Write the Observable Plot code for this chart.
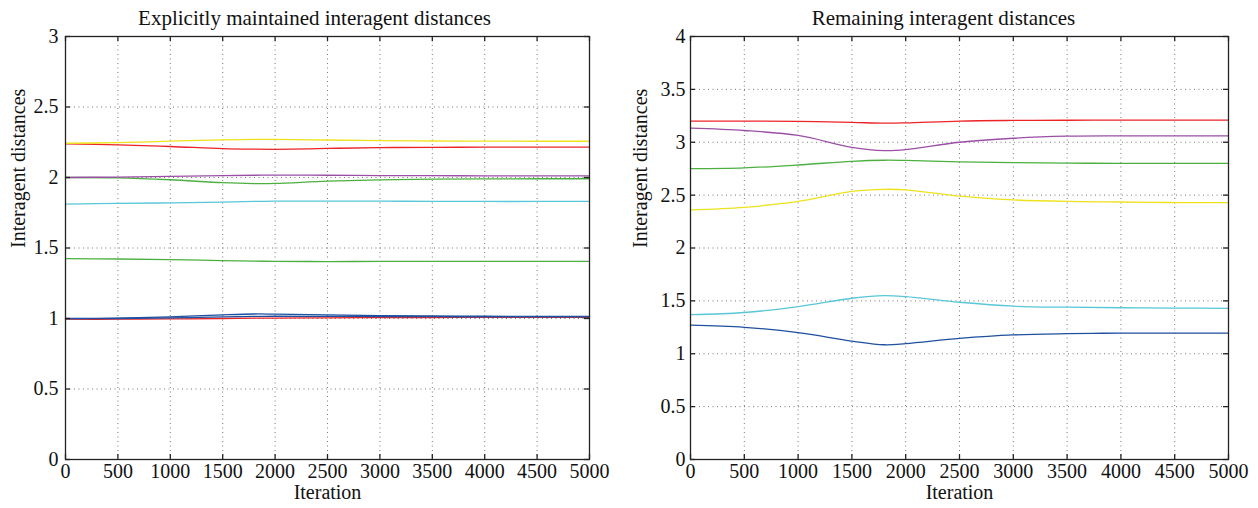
<!DOCTYPE html>
<html>
<head>
<meta charset="utf-8">
<script src="https://cdn.jsdelivr.net/npm/d3@7"></script>
<script src="https://cdn.jsdelivr.net/npm/@observablehq/plot@0.6"></script>
<style>
  html, body { margin: 0; padding: 0; background: #fff; }
  #wrap { display: flex; width: 1258px; height: 508px; overflow: hidden; font-family: "Liberation Serif", serif; }
  .panel { position: relative; width: 629px; height: 508px; }
  .title { position: absolute; top: 6px; left: 0; width: 629px; text-align: center; font-size: 21px; line-height: 24px; color: #111; }
  .chart { position: absolute; top: 30px; left: 0; }
  .chart svg text { font-family: "Liberation Serif", serif !important; }
</style>
</head>
<body>
<div id="wrap">
  <div class="panel" id="p1"><div class="title">Explicitly maintained interagent distances</div><div class="chart" id="c1"></div></div>
  <div class="panel" id="p2"><div class="title">Remaining interagent distances</div><div class="chart" id="c2"></div></div>
</div>
<script>
// ---- shared ----
const iterations = [0, 500, 1000, 1500, 1800, 2000, 2500, 3000, 3500, 4000, 4500, 5000];
const xTicks = [0, 500, 1000, 1500, 2000, 2500, 3000, 3500, 4000, 4500, 5000];
const xLabel = "Iteration";
const yLabel = "Interagent distances";

// ---- left panel: explicitly maintained ----
const leftTitle = "Explicitly maintained interagent distances";
const leftYTicks = [0, 0.5, 1, 1.5, 2, 2.5, 3];
const leftYellow  = [2.243, 2.247, 2.258, 2.267, 2.270, 2.270, 2.266, 2.262, 2.259, 2.258, 2.257, 2.257];
const leftRed1    = [2.239, 2.232, 2.220, 2.205, 2.201, 2.200, 2.206, 2.212, 2.214, 2.215, 2.215, 2.215];
const leftPurple  = [2.000, 2.003, 2.008, 2.013, 2.016, 2.017, 2.016, 2.014, 2.013, 2.012, 2.012, 2.012];
const leftGreen1  = [2.000, 1.998, 1.984, 1.963, 1.957, 1.958, 1.974, 1.983, 1.988, 1.990, 1.991, 1.991];
const leftCyan    = [1.811, 1.816, 1.820, 1.826, 1.830, 1.832, 1.832, 1.832, 1.831, 1.830, 1.830, 1.830];
const leftGreen2  = [1.424, 1.422, 1.418, 1.411, 1.407, 1.405, 1.404, 1.405, 1.405, 1.405, 1.405, 1.405];
const leftBlue1   = [1.000, 1.003, 1.012, 1.026, 1.032, 1.031, 1.026, 1.021, 1.018, 1.016, 1.015, 1.015];
const leftBlue2   = [0.999, 1.000, 1.004, 1.011, 1.015, 1.016, 1.015, 1.014, 1.013, 1.012, 1.012, 1.012];
const leftRed2    = [0.995, 0.995, 0.997, 1.000, 1.002, 1.003, 1.005, 1.006, 1.007, 1.008, 1.008, 1.008];

// ---- right panel: remaining ----
const rightTitle = "Remaining interagent distances";
const rightYTicks = [0, 0.5, 1, 1.5, 2, 2.5, 3, 3.5, 4];
const rightRed    = [3.200, 3.200, 3.198, 3.188, 3.180, 3.183, 3.200, 3.206, 3.208, 3.209, 3.210, 3.210];
const rightPurple = [3.133, 3.111, 3.064, 2.952, 2.921, 2.930, 3.000, 3.038, 3.057, 3.060, 3.061, 3.061];
const rightGreen  = [2.750, 2.758, 2.785, 2.820, 2.830, 2.828, 2.815, 2.807, 2.803, 2.800, 2.800, 2.800];
const rightYellow = [2.360, 2.385, 2.440, 2.535, 2.555, 2.550, 2.490, 2.455, 2.440, 2.435, 2.430, 2.430];
const rightCyan   = [1.370, 1.390, 1.445, 1.525, 1.550, 1.540, 1.487, 1.450, 1.440, 1.435, 1.432, 1.430];
const rightBlue   = [1.270, 1.250, 1.200, 1.120, 1.085, 1.095, 1.145, 1.178, 1.190, 1.195, 1.195, 1.195];

const C = {
  red: "#ec2427", yellow: "#eee21c", purple: "#9a4fa5", green: "#4bb040",
  cyan: "#58c7d7", blue: "#1f4f9f"
};

const FONT = "Liberation Serif";
const toRows = vals => iterations.map((x, i) => ({x, y: vals[i]}));

function makeChart({series, yDomain, yTicks, marginLeft, marginRight, yTickPad, yLabelDx}) {
  const width = 629, height = 478, marginTop = 6, marginBottom = 49;
  const innerW = width - marginLeft - marginRight;
  const innerH = height - marginTop - marginBottom;
  const tickLen = 5;
  const svg = Plot.plot({
    width, height, marginTop, marginBottom, marginLeft, marginRight,
    style: {fontFamily: FONT, fontSize: "20px", color: "#111", background: "white", overflow: "visible"},
    x: {domain: [0, 5000]},
    y: {domain: yDomain},
    marks: [
      Plot.gridX(xTicks.slice(1, -1), {stroke: "#777", strokeOpacity: 1, strokeDasharray: "1,3.5", strokeWidth: 1}),
      Plot.gridY(yTicks.slice(1, -1), {stroke: "#777", strokeOpacity: 1, strokeDasharray: "1,3.5", strokeWidth: 1}),
      ...series.map(([vals, col]) => Plot.line(toRows(vals), {x: "x", y: "y", stroke: col, strokeWidth: 1.3, curve: "catmull-rom"})),
      Plot.frame({stroke: "#222", strokeWidth: 1.3}),
      // inward ticks on all four sides (MATLAB style)
      Plot.tickX(xTicks, {x: d => d, insetTop: innerH - tickLen, stroke: "#222", strokeWidth: 1.3}),
      Plot.tickX(xTicks, {x: d => d, insetBottom: innerH - tickLen, stroke: "#222", strokeWidth: 1.3}),
      Plot.tickY(yTicks, {y: d => d, insetRight: innerW - tickLen, stroke: "#222", strokeWidth: 1.3}),
      Plot.tickY(yTicks, {y: d => d, insetLeft: innerW - tickLen, stroke: "#222", strokeWidth: 1.3}),
      Plot.axisX(xTicks, {tickSize: 0, tickPadding: 4, tickFormat: d => String(d), label: null, fontSize: 20, fontFamily: FONT}),
      Plot.axisY(yTicks, {tickSize: 0, tickPadding: yTickPad, tickFormat: d => String(d), label: null, fontSize: 20, fontFamily: FONT}),
      Plot.text([xLabel], {frameAnchor: "bottom", dy: 39, fontSize: 20, fontFamily: FONT, fill: "#111"}),
      Plot.text([yLabel], {frameAnchor: "left", rotate: -90, dx: yLabelDx, fontSize: 20, fontFamily: FONT, fill: "#111"})
    ]
  });
  svg.querySelectorAll("text").forEach(t => t.style.fontFamily = '"Liberation Serif", serif');
  return svg;
}

document.querySelector("#p1 .title").textContent = leftTitle;
document.querySelector("#p2 .title").textContent = rightTitle;

document.getElementById("c1").appendChild(makeChart({
  series: [
    [leftGreen2, C.green], [leftCyan, C.cyan], [leftGreen1, C.green], [leftPurple, C.purple],
    [leftRed1, C.red], [leftYellow, C.yellow], [leftRed2, C.red], [leftBlue2, C.blue], [leftBlue1, C.blue]
  ],
  yDomain: [0, 3], yTicks: leftYTicks, marginLeft: 65, marginRight: 40, yTickPad: 7, yLabelDx: -47
}));

document.getElementById("c2").appendChild(makeChart({
  series: [
    [rightRed, C.red], [rightPurple, C.purple], [rightGreen, C.green],
    [rightYellow, C.yellow], [rightCyan, C.cyan], [rightBlue, C.blue]
  ],
  yDomain: [0, 4], yTicks: rightYTicks, marginLeft: 61, marginRight: 30, yTickPad: 5, yLabelDx: -50
}));
</script>
</body>
</html>
